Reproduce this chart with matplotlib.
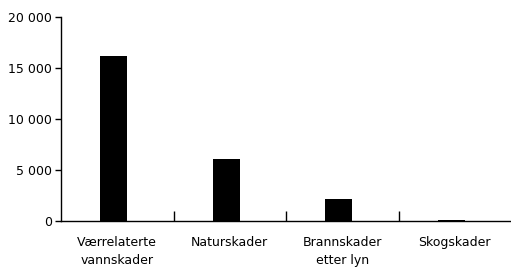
import matplotlib
matplotlib.use('Agg')
import matplotlib.pyplot as plt
import numpy as np

plt.rcParams.update({'font.size': 9, 'font.family': 'DejaVu Sans'})

categories = ['Værrelaterte\nvannskader', 'Naturskader', 'Brannskader\netter lyn', 'Skogskader']
values = [16200, 6100, 2150, 60]
yticks = [0, 5000, 10000, 15000, 20000]
ytick_labels = ['0', '5 000', '10 000', '15 000', '20 000']

fig = plt.figure(figsize=(5.11, 2.68), dpi=100)
ax = fig.add_axes([61/511, 47/268, 450/511, 204/268])

x = np.arange(len(categories))
ax.bar(x - 0.03, values, width=0.24, color='black')

ax.set_xlim(-0.5, len(categories) - 0.5)
ax.set_ylim(0, 20000)
ax.set_yticks(yticks)
ax.set_yticklabels(ytick_labels)
ax.set_xticks(x)
ax.set_xticklabels(categories, linespacing=1.5)
ax.set_xticks(x[:-1] + 0.5, minor=True)

ax.tick_params(axis='x', which='major', length=0, pad=11)
ax.tick_params(axis='x', which='minor', direction='in', length=7.2, width=1)
ax.tick_params(axis='y', direction='out', length=4.3, width=1, pad=2)

for side in ['top', 'right']:
    ax.spines[side].set_visible(False)
for side in ['left', 'bottom']:
    ax.spines[side].set_linewidth(1)

fig.savefig('out.png', dpi=100)
